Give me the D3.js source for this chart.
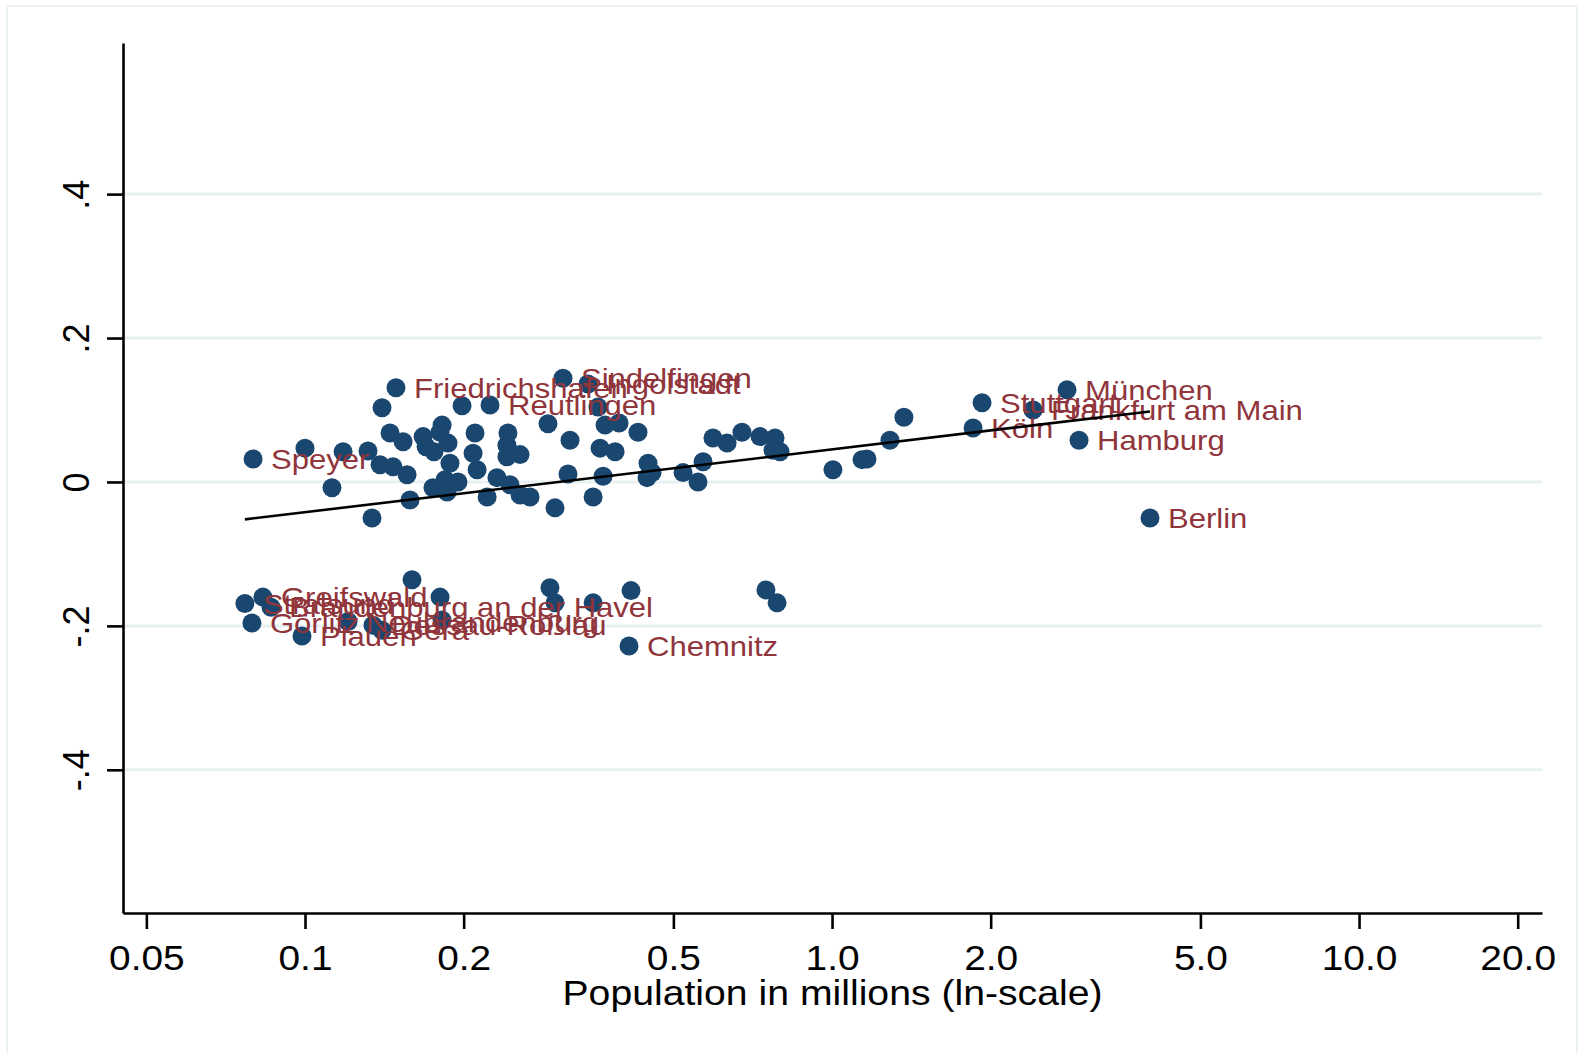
<!DOCTYPE html>
<html>
<head>
<meta charset="utf-8">
<script src="https://cdn.jsdelivr.net/npm/d3@7"></script>
<style>
  body { margin: 0; background: #fff; }
  svg { display: block; }
  text { font-family: "Liberation Sans", Arial, sans-serif; }
</style>
</head>
<body>
<svg id="chart" width="1580" height="1053"></svg>
<script>
// City labels (empty string = unlabelled marker)
const cityNames = [
  "Speyer", "", "", "", "", "", "", "Friedrichshafen", "", "",
  "", "", "", "", "", "", "", "", "", "",
  "", "", "", "", "", "", "", "", "", "",
  "Reutlingen", "", "", "", "", "", "", "", "", "",
  "", "", "", "", "", "", "", "", "", "",
  "", "", "Sindelfingen", "Ingolstadt", "", "", "", "", "", "",
  "", "", "", "", "", "", "", "", "", "",
  "", "Stuttgart", "Köln", "Frankfurt am Main", "München", "Hamburg", "Berlin", "Stralsund", "Greifswald", "Brandenburg an der Havel",
  "Görlitz", "Plauen", "Neubrandenburg", "Dessau-Roßlau", "Gera", "", "", "", "", "",
  "", "", "Chemnitz", "", ""
];

// Population in millions
const populationMillions = [
  0.0797, 0.100, 0.1125, 0.1181, 0.1317, 0.1340, 0.1400, 0.1488, 0.1450, 0.1535,
  0.1388, 0.1469, 0.1562, 0.1582, 0.1675, 0.1697, 0.1757, 0.1820, 0.1804, 0.1868,
  0.1884, 0.1749, 0.1844, 0.1860, 0.1951, 0.1986, 0.2102, 0.2084, 0.2121, 0.2216,
  0.2244, 0.2313, 0.2427, 0.2416, 0.2416, 0.2559, 0.2449, 0.2559, 0.2673, 0.2891,
  0.3155, 0.3183, 0.2981, 0.3521, 0.3630, 0.3678, 0.3876, 0.3710, 0.3944, 0.4284,
  0.4476, 0.4456, 0.3087, 0.3443, 0.3597, 0.4555, 0.5216, 0.5568, 0.5692, 0.5944,
  0.6322, 0.6747, 0.7300, 0.7796, 0.7728, 0.7969, 1.004, 1.140, 1.165, 1.288,
  1.369, 1.926, 1.852, 2.407, 2.792, 2.942, 4.012, 0.0769, 0.0832, 0.0862,
  0.0793, 0.0987, 0.1207, 0.1346, 0.1400, 0.1596, 0.1804, 0.1820, 0.2916, 0.2981,
  0.3521, 0.4155, 0.4119, 0.7493, 0.7865
];

// Vertical-axis values
const residualValues = [
  0.032, 0.047, -0.008, 0.042, 0.043, -0.050, 0.103, 0.131, 0.068, 0.056,
  0.024, 0.021, 0.010, -0.025, 0.063, 0.049, 0.042, 0.079, 0.069, 0.054,
  0.026, -0.008, 0.003, -0.014, 0.000, 0.106, 0.068, 0.040, 0.017, -0.021,
  0.107, 0.006, 0.068, 0.051, 0.035, 0.038, -0.004, -0.018, -0.021, 0.081,
  0.011, 0.058, -0.036, -0.021, 0.047, 0.008, 0.042, 0.079, 0.082, 0.069,
  0.026, 0.006, 0.144, 0.136, 0.104, 0.013, 0.013, 0.000, 0.028, 0.061,
  0.054, 0.069, 0.063, 0.061, 0.044, 0.042, 0.017, 0.031, 0.032, 0.058,
  0.090, 0.110, 0.075, 0.100, 0.128, 0.058, -0.050, -0.169, -0.160, -0.174,
  -0.196, -0.214, -0.194, -0.199, -0.206, -0.136, -0.160, -0.192, -0.147, -0.168,
  -0.168, -0.151, -0.228, -0.150, -0.168
];

// Linear fit on ln(population): endpoints
const fitPopulation = [0.0769, 4.012];
const fitValues = [-0.052, 0.098];

const xTickValues = [0.05, 0.1, 0.2, 0.5, 1, 2, 5, 10, 20];
const xTickLabels = ["0.05", "0.1", "0.2", "0.5", "1.0", "2.0", "5.0", "10.0", "20.0"];
const yTickValues = [0.4, 0.2, 0, -0.2, -0.4];
const yTickLabels = [".4", ".2", "0", "-.2", "-.4"];
const xTitle = "Population in millions (ln-scale)";

const svg = d3.select("#chart");
const navy = "#1a476f";
const maroon = "#90353b";
const gridColor = "#e8f0f2";

// outer graph frame (bottom edge runs past the canvas)
svg.append("rect")
  .attr("x", 7).attr("y", 6).attr("width", 1570).attr("height", 1060)
  .attr("fill", "#fff").attr("stroke", "#eaf2f3").attr("stroke-width", 2);

const plotLeft = 123, plotRight = 1542, plotTop = 43, plotBottom = 913;
const x = d3.scaleLog().domain([0.04515, 22.24]).range([plotLeft, plotRight]);
const y = d3.scaleLinear().domain([-0.599, 0.61]).range([plotBottom, plotTop]);

// horizontal grid
svg.append("g").selectAll("line").data(yTickValues).join("line")
  .attr("x1", plotLeft).attr("x2", plotRight)
  .attr("y1", d => y(d)).attr("y2", d => y(d))
  .attr("stroke", gridColor).attr("stroke-width", 3);

// y axis
const yAxis = svg.append("g").attr("transform", `translate(${plotLeft},0)`)
  .call(d3.axisLeft(y).tickValues(yTickValues)
    .tickFormat((d, i) => yTickLabels[i]).tickSize(16).tickSizeOuter(0));
yAxis.select(".domain").attr("stroke", "#000").attr("stroke-width", 2.6);
yAxis.selectAll(".tick line").attr("stroke", "#000").attr("stroke-width", 2.6);
yAxis.selectAll(".tick text")
  .attr("x", null).attr("dy", null)
  .attr("transform", "translate(-34,0) rotate(-90)")
  .attr("text-anchor", "middle")
  .attr("fill", "#000")
  .style("font-size", "36px");

// x axis
const xAxis = svg.append("g").attr("transform", `translate(0,${plotBottom})`)
  .call(d3.axisBottom(x).tickValues(xTickValues)
    .tickFormat((d, i) => xTickLabels[i]).tickSize(16).tickSizeOuter(0));
xAxis.select(".domain").attr("stroke", "#000").attr("stroke-width", 2.6);
xAxis.selectAll(".tick line").attr("stroke", "#000").attr("stroke-width", 2.6);
xAxis.selectAll(".tick text")
  .attr("y", 57).attr("dy", null)
  .attr("transform", "scale(1.08,1)")
  .attr("fill", "#000")
  .style("font-size", "36px");

// axis title
svg.append("text")
  .attr("transform", `translate(${(plotLeft + plotRight) / 2},1005) scale(1.12,1)`)
  .attr("text-anchor", "middle")
  .attr("fill", "#000")
  .style("font-size", "35px")
  .text(xTitle);

const points = cityNames.map((name, i) => ({
  name, pop: populationMillions[i], val: residualValues[i]
}));

// markers
svg.append("g").selectAll("circle").data(points).join("circle")
  .attr("cx", d => x(d.pop)).attr("cy", d => y(d.val))
  .attr("r", 9.5).attr("fill", navy);

// marker labels (to the right of each marker)
svg.append("g").selectAll("text").data(points.filter(d => d.name)).join("text")
  .attr("transform", d => `translate(${x(d.pop) + 18},${y(d.val) + 10}) scale(1.15,1)`)
  .attr("fill", maroon)
  .style("font-size", "27px")
  .text(d => d.name);

// fitted line
svg.append("path")
  .datum(fitPopulation.map((p, i) => [p, fitValues[i]]))
  .attr("d", d3.line().x(d => x(d[0])).y(d => y(d[1])))
  .attr("fill", "none").attr("stroke", "#000").attr("stroke-width", 2.6);
</script>
</body>
</html>
